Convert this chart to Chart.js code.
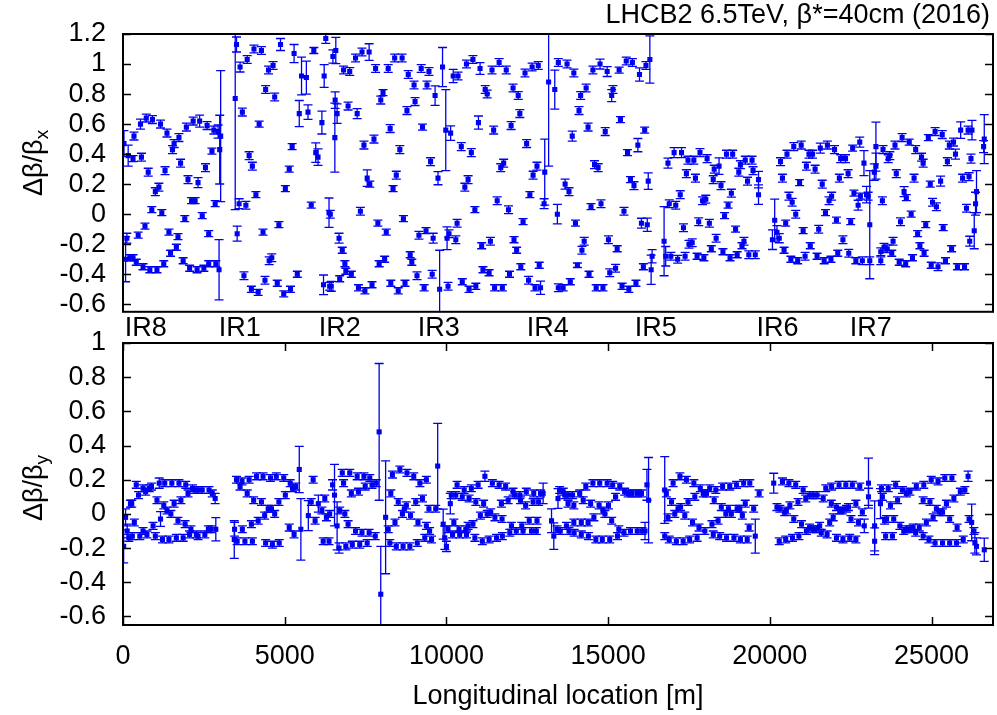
<!DOCTYPE html>
<html>
<head>
<meta charset="utf-8">
<title>LHCB2 beta-beating</title>
<script src="https://cdn.jsdelivr.net/npm/chart.js@4.4.1/dist/chart.umd.min.js"></script>
<style>
    body { margin: 0; background: #fff; width: 997px; height: 715px; overflow: hidden; position: relative; }
    .panel { position: absolute; left: 0; width: 997px; }
    #topBox { top: 0; height: 345px; }
    #botBox { top: 300px; height: 415px; }
</style>
</head>
<body>
<div class="panel" id="topBox"><canvas id="betaXChart"></canvas></div>
<div class="panel" id="botBox"><canvas id="betaYChart"></canvas></div>
<script>
// Each entry: [longitudinal location (m), delta beta / beta, error]
const betaX = [
    // IR8 arc
    [30,0.47,0.087],[160,0.39,0.07],[310,0.37,0.02],[340,0.52,0.026],[540,0.60,0.033],[570,0.38,0.026],
    [720,0.64,0.026],[780,0.28,0.026],[910,0.63,0.026],[1000,0.15,0.026],[1110,0.18,0.026],[1160,0.60,0.026],
    [890,0.03,0.02],[1200,0.01,0.02],[1300,0.29,0.026],[1360,0.54,0.026],[1530,0.43,0.026],[1580,0.47,0.026],
    [1730,0.51,0.026],[1780,0.34,0.026],[1960,0.58,0.026],[2010,0.23,0.026],[2170,0.62,0.026],[2320,0.21,0.033],
    [2370,0.62,0.04],[2550,0.31,0.026],[2600,0.59,0.026],[2810,0.56,0.026],[1910,-0.03,0.02],[2120,0.09,0.02],
    [2230,0.09,0.02],[2450,-0.01,0.02],[2750,0.42,0.02],[2850,0.07,0.02],[2940,0.55,0.044],[2990,0.43,0.229],
    [3020,0.52,0.436],[680,-0.08,0.02],[470,-0.14,0.02],[120,-0.16,0.033],[80,-0.30,0.15],[210,-0.29,0.02],
    [310,-0.29,0.02],[410,-0.32,0.02],[620,-0.35,0.02],[830,-0.37,0.02],[1050,-0.37,0.02],[1260,-0.33,0.02],
    [1470,-0.26,0.02],[1650,-0.22,0.02],[1420,-0.12,0.02],[1700,-0.15,0.02],[1860,-0.31,0.02],[2060,-0.36,0.02],
    [2290,-0.37,0.02],[2500,-0.36,0.02],[2650,-0.33,0.02],[2870,-0.33,0.02],[2650,-0.13,0.02],[2970,-0.37,0.2],
    // IR1 - IR2
    [3510,1.13,0.05],[3470,0.77,0.74],[3530,-0.13,0.05],[3590,0.07,0.033],[3800,0.06,0.026],[3620,0.98,0.033],
    [3690,0.68,0.026],[3740,-0.41,0.026],[3840,1.03,0.026],[3900,0.39,0.026],[4000,0.32,0.026],[3970,-0.50,0.02],
    [4180,-0.52,0.02],[4050,1.10,0.026],[4280,1.09,0.026],[4110,0.13,0.02],[4210,0.60,0.02],[4330,-0.12,0.02],
    [4390,-0.44,0.026],[4410,0.83,0.026],[4500,0.96,0.026],[4640,0.99,0.026],[4520,-0.31,0.026],[4600,-0.29,0.026],
    [4690,0.78,0.026],[4770,-0.46,0.02],[4820,-0.07,0.02],[4870,1.13,0.04],[4970,-0.53,0.02],[5180,-0.50,0.02],
    [5020,0.17,0.02],[5140,0.30,0.02],[5230,0.45,0.02],[5290,1.07,0.06],[5390,-0.40,0.02],[5450,0.67,0.087],
    [5520,0.92,0.126],[5670,0.91,0.11],[5720,0.68,0.048],[5820,0.06,0.02],[5900,1.09,0.02],[5960,0.41,0.065],
    [6030,0.38,0.055],[6150,0.61,0.076],[6200,-0.47,0.065],[6220,0.92,0.076],[6270,1.17,0.033],[6370,0.01,0.098],
    [6390,-0.48,0.026],
    [6490,1.05,0.044],[6580,1.09,0.087],[6560,0.76,0.055],[6620,0.67,0.065],[6550,0.51,0.23],[6410,0.00,0.026],
    [6680,-0.16,0.033],[6780,-0.24,0.02],[6860,-0.33,0.02],[6890,-0.38,0.02],[7060,-0.40,0.02],[6700,-0.43,0.02],
    [6440,-0.48,0.033],[6820,0.96,0.026],[7010,0.95,0.026],[6960,0.72,0.026],[7240,0.67,0.033],[7190,1.04,0.026],
    [7390,1.08,0.026],[7610,1.08,0.055],[7340,0.02,0.026],[7280,-0.49,0.02],[7480,-0.51,0.02],[7700,-0.47,0.02],
    [7450,0.46,0.026],[7760,0.50,0.026],[7550,0.24,0.055],[7630,0.20,0.02],[7810,0.97,0.026],[7880,-0.06,0.02],
    [8140,-0.12,0.02],[7920,-0.33,0.02],[8090,-0.30,0.02],[7970,0.76,0.026],[8040,0.81,0.02],[8200,0.97,0.026],
    [8260,0.57,0.026],[8280,-0.46,0.02],[8510,-0.51,0.02],[8720,-0.46,0.02],[8350,0.17,0.02],[8400,1.04,0.026],
    [8630,1.04,0.026],[8450,0.26,0.026],[8560,0.43,0.026],[8670,-0.03,0.02],[8780,0.69,0.026],[9030,0.75,0.026],
    [8820,0.93,0.026],[9000,0.86,0.026],[8880,-0.27,0.02],[8930,-0.32,0.02],[9090,-0.41,0.026],[9150,-0.14,0.026],
    [9370,-0.11,0.02],[9590,-0.16,0.033],[9220,0.97,0.026],[9460,0.95,0.026],[9260,0.58,0.02],[9310,-0.49,0.02],
    [9400,0.86,0.026],[9510,0.35,0.026],[9560,-0.40,0.026],[9650,0.79,0.065],[9740,0.24,0.044],[9790,-0.50,0.26],
    // IR3 - IR4
    [9880,0.98,0.13],[9980,0.56,0.27],[10020,-0.16,0.076],[10050,-0.48,0.026],[10130,0.54,0.048],[10080,-0.13,0.026],
    [10290,-0.17,0.026],[10330,-0.06,0.026],[10210,0.92,0.044],[10360,0.92,0.026],[10460,0.45,0.026],[10490,-0.45,0.02],
    [10700,-0.50,0.02],[10910,-0.48,0.02],[10570,0.18,0.026],[10670,0.23,0.026],[10620,1.00,0.026],[10820,1.03,0.026],
    [10770,0.41,0.026],[10880,0.03,0.02],[10990,0.61,0.044],[11040,0.97,0.039],[11090,-0.21,0.02],[11360,-0.18,0.026],
    [11130,-0.37,0.02],[11320,-0.39,0.02],[11200,0.83,0.026],[11260,0.80,0.026],[11410,0.96,0.026],[11630,1.01,0.026],
    [11850,0.96,0.026],[11460,0.56,0.026],[11490,-0.49,0.02],[11730,-0.49,0.02],[11570,0.09,0.026],[11680,0.31,0.026],
    [11770,0.34,0.026],[11920,0.03,0.026],[11950,-0.40,0.02],[12000,0.59,0.026],[12060,0.84,0.026],[12220,0.79,0.026],
    [12270,0.67,0.026],[12090,-0.17,0.02],[12170,-0.24,0.02],[12300,-0.35,0.02],[12370,-0.05,0.02],[12430,0.94,0.026],
    [12480,0.47,0.026],[12540,-0.44,0.026],[12580,0.13,0.02],[12650,0.98,0.026],[12840,0.99,0.026],[12680,0.26,0.026],
    [12800,0.32,0.026],[12740,-0.49,0.02],[12910,-0.49,0.044],[12870,-0.34,0.02],[13020,0.07,0.033],[13040,0.28,0.22],
    [13160,0.88,0.56],[13350,0.83,0.13],[13430,0.00,0.065],[13460,1.01,0.026],[13460,-0.49,0.026],
    [13610,-0.49,0.02],[13730,1.00,0.026],[13670,0.20,0.033],[13790,0.15,0.026],[13830,-0.45,0.02],[13890,0.52,0.033],
    [13940,0.94,0.026],[13990,-0.06,0.02],[14050,-0.34,0.015],[14100,0.69,0.026],[14150,0.79,0.026],[14320,0.84,0.026],
    [14190,-0.24,0.026],[14260,-0.18,0.026],[14380,0.58,0.026],[14410,-0.40,0.02],[14470,0.05,0.02],[14530,0.96,0.026],
    [14750,1.00,0.033],[14970,0.95,0.033],[14580,0.33,0.026],[14690,0.31,0.026],[14630,-0.49,0.02],[14840,-0.49,0.02],
    [14780,0.07,0.026],[14910,0.55,0.026],[15010,-0.17,0.026],[15280,-0.23,0.02],[15050,-0.39,0.026],[15230,-0.36,0.026],
    [15110,0.79,0.04],[15150,0.83,0.026],[15340,0.96,0.02],[15380,0.63,0.02],[15490,0.02,0.026],[15430,-0.48,0.02],
    [15640,-0.50,0.02],[15860,-0.46,0.02],[15560,1.02,0.026],[15750,1.01,0.026],[15970,0.93,0.044],[15600,0.41,0.02],
    [15690,0.23,0.02],[15800,0.19,0.026],[15920,0.46,0.044],[16030,-0.06,0.033],[16210,-0.07,0.044],[16090,-0.35,0.02],
    [16130,0.56,0.02],[16170,0.99,0.026],[16290,1.03,0.157],[16240,0.22,0.055],[16330,-0.37,0.098],[16360,-0.28,0.044],
    // IR5 - IR6
    [16730,-0.18,0.23],[16780,-0.28,0.065],[16850,0.34,0.033],[16890,0.07,0.026],[17090,0.06,0.026],[16940,-0.28,0.026],
    [17150,-0.30,0.026],[17380,-0.28,0.026],[17040,0.41,0.033],[17270,0.41,0.033],[17230,0.13,0.026],[17330,-0.09,0.026],
    [17420,0.27,0.026],[17700,0.24,0.026],[17470,0.36,0.026],[17650,0.36,0.026],[17500,-0.20,0.026],[17600,-0.19,0.026],
    [17750,-0.28,0.02],[17960,-0.29,0.02],[17800,-0.05,0.026],[18130,-0.06,0.026],[17840,0.41,0.026],[18060,0.37,0.026],
    [17920,0.09,0.026],[18020,0.10,0.026],[18190,-0.23,0.02],[18250,0.23,0.026],[18280,0.30,0.026],[18430,0.32,0.055],
    [18340,-0.16,0.026],[18490,0.19,0.026],[18550,-0.25,0.02],[18600,-0.01,0.02],[18660,0.40,0.026],[18850,0.40,0.026],
    [18710,0.06,0.02],[18770,-0.29,0.02],[18810,0.14,0.026],[18940,-0.10,0.02],[18990,-0.27,0.02],[19040,0.28,0.026],
    [19090,0.33,0.026],[19140,-0.21,0.02],[19200,-0.18,0.026],[19240,0.36,0.026],[19450,0.36,0.026],[19310,0.22,0.026],
    [19350,-0.27,0.026],[19550,-0.27,0.026],[19480,0.29,0.026],[19650,0.23,0.055],[19650,0.13,0.065],
    [20080,-0.17,0.065],[20150,-0.04,0.14],[20220,-0.12,0.044],[20290,-0.16,0.03],[20330,0.35,0.026],[20390,0.24,0.026],
    [20440,-0.24,0.02],[20490,-0.06,0.02],[20530,0.40,0.026],[20740,0.45,0.026],[20970,0.46,0.026],[20590,0.12,0.026],
    [20690,0.08,0.026],[20650,-0.30,0.02],[20860,-0.31,0.02],[20800,0.00,0.026],[20920,0.21,0.02],[21030,-0.11,0.02],
    [21090,-0.28,0.026],[21130,0.32,0.026],[21210,0.40,0.026],[21320,0.40,0.026],[21250,-0.21,0.02],[21400,0.30,0.026],
    [21460,-0.28,0.02],[21510,-0.10,0.026],[21560,0.44,0.033],[21780,0.46,0.026],[22000,0.43,0.026],[21620,0.20,0.026],
    [21680,-0.31,0.02],[21890,-0.30,0.02],[21720,0.01,0.02],[21830,0.09,0.026],[21910,0.12,0.026],[22060,-0.04,0.02],
    [22100,-0.26,0.02],[22150,0.24,0.026],[22190,0.37,0.026],[22340,0.37,0.026],[22260,-0.17,0.026],[22420,0.27,0.026],
    [22440,-0.26,0.026],[22500,-0.05,0.02],[22560,0.44,0.02],[22600,0.14,0.02],[22660,-0.31,0.02],[22860,-0.31,0.026],
    // IR7 - IR8
    [22730,0.06,0.033],[22780,0.48,0.033],[22800,0.12,0.02],[22910,0.34,0.083],[22990,0.13,0.055],[23040,0.12,0.026],
    [23090,-0.07,0.36],[23090,-0.31,0.026],[23230,0.28,0.055],[23280,0.32,0.087],[23280,0.45,0.163],[23430,-0.31,0.026],
    [23430,-0.25,0.026],[23480,0.09,0.026],[23500,0.43,0.026],[23530,-0.22,0.026],[23630,-0.23,0.026],[23660,0.37,0.026],
    [23710,0.39,0.026],[23770,-0.26,0.02],[23810,-0.18,0.026],[23870,0.46,0.026],[23910,0.27,0.026],[24000,-0.32,0.02],
    [24200,-0.33,0.02],[24040,-0.05,0.026],[24090,0.51,0.026],[24150,0.15,0.033],[24220,0.11,0.02],[24310,0.48,0.02],
    [24370,0.00,0.02],[24410,-0.29,0.02],[24460,0.24,0.026],[24510,0.43,0.026],[24570,-0.13,0.02],[24640,-0.21,0.02],
    [24690,0.38,0.026],[24740,0.34,0.026],[24770,-0.26,0.02],[24820,-0.07,0.02],[24900,0.51,0.02],[24960,0.20,0.02],
    [25030,0.08,0.026],[25150,0.05,0.026],[24990,-0.34,0.02],[25200,-0.35,0.026],[25110,0.55,0.026],[25330,0.53,0.026],
    [25280,0.22,0.033],[25360,-0.09,0.02],[25430,-0.31,0.02],[25490,0.35,0.026],[25550,0.46,0.026],[25680,0.48,0.026],
    [25620,-0.23,0.02],[25740,0.40,0.033],[25800,-0.35,0.02],[26020,-0.35,0.02],[25900,0.56,0.055],[26130,0.56,0.026],
    [26250,0.56,0.065],[25960,0.24,0.026],[26080,0.04,0.026],[26160,0.25,0.026],[26180,-0.18,0.033],[26220,0.37,0.03],
    [26320,-0.11,0.12],[26360,0.07,0.076],[26390,0.15,0.14],[26630,0.50,0.163],[26610,0.45,0.04]
];

const betaY = [
    // IR8 arc
    [20,-0.19,0.097],[80,-0.02,0.05],[130,-0.10,0.04],[180,-0.14,0.02],[290,-0.13,0.02],[230,0.06,0.02],
    [270,0.06,0.02],[350,-0.05,0.02],[410,0.17,0.02],[480,0.11,0.02],[520,-0.13,0.02],[620,-0.10,0.02],
    [620,0.15,0.02],[700,0.13,0.02],[740,-0.12,0.02],[810,0.15,0.02],[880,0.16,0.02],[930,-0.07,0.02],
    [1000,-0.13,0.02],[1050,0.08,0.02],[1120,0.18,0.03],[1160,-0.03,0.043],[1220,-0.15,0.02],[1420,-0.15,0.02],
    [1650,-0.14,0.02],[1860,-0.14,0.02],[1260,0.05,0.02],[1360,0.02,0.02],[1480,0.00,0.02],[1290,0.18,0.02],
    [1510,0.18,0.02],[1730,0.18,0.02],[1940,0.17,0.02],[1580,0.06,0.02],[1790,0.08,0.02],[1700,-0.04,0.02],
    [1920,-0.06,0.02],[2010,0.12,0.02],[2100,-0.09,0.02],[2150,0.15,0.02],[2060,-0.12,0.02],[2320,-0.13,0.02],
    [2530,-0.12,0.02],[2220,0.14,0.02],[2320,0.14,0.02],[2450,0.14,0.02],[2660,0.14,0.02],[2270,-0.12,0.02],
    [2640,-0.09,0.02],[2720,-0.09,0.02],[2760,0.12,0.02],[2850,0.09,0.03],[2870,-0.09,0.068],
    // IR1 - IR2
    [3450,-0.09,0.04],[3440,-0.15,0.11],[3510,0.20,0.02],[3680,0.19,0.02],[3900,0.20,0.02],[3620,0.16,0.02],
    [3530,-0.16,0.02],[3770,-0.16,0.02],[4000,-0.16,0.02],[3690,-0.09,0.02],[3840,0.12,0.02],[3970,-0.06,0.02],
    [4040,0.08,0.02],[4130,0.22,0.02],[4330,0.22,0.02],[4560,0.21,0.02],[4740,0.22,0.02],[4180,-0.04,0.02],
    [4280,0.07,0.02],[4380,-0.01,0.02],[4410,-0.17,0.02],[4620,-0.18,0.02],[4830,-0.17,0.02],[4490,0.03,0.02],
    [4590,0.03,0.02],[4690,0.00,0.02],[4820,0.07,0.02],[4970,0.21,0.02],[5020,0.11,0.02],[5140,-0.08,0.02],
    [5170,0.18,0.02],[5240,0.15,0.02],[5290,-0.12,0.02],[5340,0.16,0.02],[5450,0.26,0.135],[5500,-0.09,0.18],
    [5730,-0.01,0.088],[5820,0.07,0.02],[5880,0.20,0.02],[5940,-0.04,0.02],[6040,0.06,0.05],[6150,0.02,0.02],
    [6240,0.09,0.02],[6290,-0.02,0.02],[6190,-0.16,0.02],[6370,-0.16,0.02],[6390,0.00,0.02],
    [6540,0.11,0.18],[6620,-0.07,0.14],[6480,0.17,0.03],[6700,0.02,0.02],[6860,0.00,0.02],[6680,-0.20,0.03],
    [6890,-0.19,0.02],[7090,-0.18,0.02],[7320,-0.18,0.02],[7550,-0.17,0.02],[6780,0.24,0.02],[7010,0.24,0.02],
    [6820,0.18,0.02],[6960,-0.06,0.02],[7060,0.12,0.02],[7280,0.13,0.02],[7190,-0.10,0.02],[7390,-0.11,0.02],
    [7610,-0.11,0.02],[7240,0.22,0.02],[7450,0.22,0.02],[7490,0.16,0.02],[7700,0.17,0.02],[7830,0.18,0.02],
    [7630,0.21,0.02],[7800,-0.13,0.02],[7920,0.48,0.40],[7970,-0.47,0.28],[8120,-0.02,0.33],[8200,-0.09,0.02],
    [8250,-0.17,0.02],[8280,0.12,0.02],[8330,0.23,0.02],[8560,0.26,0.02],[8780,0.24,0.02],[8990,0.22,0.02],
    [8410,-0.05,0.02],[8450,-0.19,0.02],[8660,-0.19,0.02],[8870,-0.19,0.02],[8510,0.07,0.02],[8640,0.00,0.02],
    [8700,0.03,0.02],[8760,0.05,0.02],[8890,-0.01,0.02],[9050,0.07,0.02],[9120,-0.05,0.02],[9260,0.09,0.02],
    [9180,0.18,0.02],[9380,0.20,0.02],[9100,-0.17,0.02],[9330,-0.14,0.02],[9540,-0.15,0.02],[9380,-0.07,0.02],
    [9480,-0.10,0.02],[9460,0.03,0.02],[9670,0.03,0.02],[9730,0.28,0.25],
    // IR3 - IR4
    [9900,-0.06,0.088],[9950,-0.14,0.068],[10000,-0.19,0.03],[10050,-0.09,0.02],[10120,0.06,0.06],[10150,0.11,0.02],
    [10290,0.11,0.02],[10190,-0.12,0.02],[10410,-0.12,0.02],[10620,-0.12,0.02],[10230,-0.05,0.02],[10390,-0.09,0.02],
    [10600,-0.09,0.02],[10330,0.17,0.02],[10490,0.10,0.02],[10700,0.09,0.02],[10550,0.14,0.02],[10770,0.15,0.02],
    [10670,-0.07,0.02],[10820,-0.06,0.02],[10880,-0.14,0.02],[11110,-0.16,0.02],[11320,-0.15,0.02],[11550,-0.14,0.02],
    [11730,-0.13,0.02],[10910,0.07,0.02],[10980,0.17,0.02],[11050,-0.01,0.02],[11190,0.22,0.03],[11150,0.06,0.02],
    [11260,0.00,0.02],[11370,0.01,0.02],[11420,0.18,0.02],[11630,0.17,0.02],[11830,0.16,0.02],[11500,-0.02,0.02],
    [11720,-0.03,0.02],[11700,0.06,0.02],[11910,0.08,0.02],[11960,-0.11,0.02],[12010,-0.07,0.02],[12160,-0.10,0.02],
    [12060,0.13,0.02],[12110,0.11,0.02],[12270,0.11,0.02],[12290,0.08,0.02],[12370,-0.10,0.02],[12470,0.13,0.02],
    [12330,-0.07,0.02],[12560,-0.04,0.02],[12450,0.05,0.02],[12630,-0.10,0.02],[12680,0.07,0.02],[12700,0.12,0.02],
    [12780,-0.10,0.02],[12800,-0.04,0.02],[12850,0.07,0.02],[12910,0.12,0.02],[12990,0.12,0.06],
    [13250,-0.04,0.07],[13320,-0.13,0.078],[13420,-0.09,0.02],[13520,-0.10,0.02],[13450,0.09,0.058],[13500,0.14,0.02],
    [13610,0.13,0.02],[13660,0.11,0.02],[13760,0.11,0.02],[13900,0.11,0.02],[13710,-0.07,0.02],[13790,-0.10,0.02],
    [13760,0.06,0.02],[13940,0.05,0.02],[13950,-0.11,0.02],[14170,-0.12,0.02],[14390,-0.13,0.02],[13940,-0.05,0.02],
    [14170,-0.05,0.02],[14380,-0.05,0.02],[14120,0.12,0.02],[14310,0.16,0.02],[14230,0.08,0.02],[14460,0.06,0.02],
    [14530,0.18,0.02],[14740,0.18,0.02],[14970,0.18,0.02],[15140,0.17,0.02],[14560,-0.02,0.02],[14620,-0.15,0.02],
    [14820,-0.15,0.02],[15050,-0.15,0.02],[14720,0.05,0.02],[14840,0.02,0.02],[14900,0.00,0.02],[15010,0.05,0.02],
    [15110,-0.04,0.02],[15230,0.10,0.02],[15290,-0.13,0.02],[15330,-0.09,0.02],[15360,0.16,0.02],[15510,0.13,0.02],
    [15620,0.12,0.02],[15740,0.12,0.02],[15900,0.12,0.02],[16030,0.12,0.02],[15490,-0.11,0.02],[15690,-0.10,0.02],
    [15900,-0.10,0.02],[16050,-0.10,0.02],[16140,-0.10,0.05],[16200,0.17,0.09],[16250,0.08,0.25],
    // IR5 - IR6
    [16750,0.14,0.195],[16800,0.12,0.02],[16750,-0.13,0.02],[16890,-0.15,0.02],[17110,-0.16,0.02],[17320,-0.16,0.02],
    [17520,-0.15,0.02],[17750,-0.14,0.02],[16850,-0.02,0.02],[17060,0.00,0.02],[16960,0.07,0.02],[17160,0.03,0.02],
    [17240,0.04,0.02],[17010,0.18,0.02],[17220,0.22,0.02],[17420,0.20,0.02],[17650,0.18,0.02],[17370,-0.01,0.02],
    [17470,0.07,0.02],[17610,-0.05,0.02],[17680,0.10,0.02],[17810,-0.08,0.02],[17990,-0.10,0.02],[17850,0.15,0.02],
    [17940,0.12,0.02],[18040,0.12,0.02],[18140,0.15,0.02],[18330,0.14,0.02],[18540,0.16,0.02],[18760,0.16,0.02],
    [18970,0.17,0.02],[19190,0.18,0.02],[19380,0.18,0.02],[18210,-0.06,0.02],[18400,-0.04,0.02],[18250,-0.12,0.02],
    [18450,-0.13,0.02],[18660,-0.14,0.02],[18890,-0.14,0.02],[19090,-0.15,0.02],[19300,-0.15,0.02],[18280,0.08,0.02],
    [18500,0.04,0.02],[18640,0.00,0.02],[18720,0.03,0.02],[18810,0.00,0.02],[18990,0.03,0.02],[19070,0.03,0.02],
    [19150,-0.01,0.02],[19240,0.06,0.02],[19360,-0.08,0.02],[19500,0.03,0.02],[19550,-0.13,0.10],[19670,0.12,0.02],
    [20120,0.18,0.058],[20390,0.19,0.02],[20590,0.18,0.02],[20800,0.17,0.02],[20220,0.04,0.02],[20310,0.03,0.02],
    [20460,0.01,0.02],[20510,0.02,0.02],[20290,-0.16,0.02],[20490,-0.15,0.02],[20700,-0.14,0.02],[20900,-0.13,0.02],
    [20620,0.05,0.02],[20740,-0.03,0.02],[20870,0.07,0.02],[20980,-0.06,0.02],[21030,0.14,0.02],[21110,0.09,0.02],
    [21230,0.11,0.02],[21340,0.11,0.02],[21460,0.11,0.02],[21650,0.09,0.02],[21730,0.15,0.02],[21910,0.16,0.02],
    [22140,0.17,0.02],[22350,0.17,0.02],[22550,0.17,0.02],[22780,0.16,0.02],[21130,-0.10,0.02],[21230,-0.08,0.02],
    [21340,-0.09,0.02],[21440,-0.09,0.02],[21590,-0.11,0.02],[21770,-0.12,0.02],[21850,-0.05,0.02],[21960,-0.02,0.02],
    [22060,-0.14,0.02],[22260,-0.15,0.02],[22470,-0.14,0.02],[22660,-0.15,0.02],[21540,-0.07,0.02],[21900,0.06,0.02],
    [22060,0.04,0.02],[22160,0.02,0.02],[22240,0.02,0.02],[22370,0.03,0.02],[22430,0.04,0.02],[22510,-0.03,0.02],
    [22660,0.06,0.02],[22740,-0.05,0.02],[22860,0.01,0.02],[22920,-0.07,0.04],
    // IR7 - IR8
    [23050,0.18,0.146],[23050,0.10,0.05],[23240,-0.07,0.146],[23240,-0.16,0.078],[23420,0.06,0.088],[23450,0.15,0.02],
    [23480,0.10,0.02],[23550,-0.04,0.02],[23580,-0.13,0.02],[23610,-0.03,0.02],[23790,-0.13,0.02],[23830,-0.03,0.02],
    [23660,0.15,0.02],[23890,0.17,0.02],[23730,0.05,0.02],[23950,0.08,0.02],[24020,-0.07,0.02],[24140,-0.10,0.02],
    [24220,-0.09,0.02],[24330,-0.09,0.02],[24430,-0.08,0.02],[24510,-0.11,0.02],[24620,-0.08,0.02],[24740,-0.13,0.02],
    [24840,-0.05,0.02],[24920,-0.15,0.02],[25050,-0.02,0.02],[25150,0.03,0.02],[25250,0.01,0.02],[25340,0.01,0.02],
    [25560,-0.03,0.02],[25790,-0.08,0.02],[24100,0.14,0.02],[24220,0.12,0.02],[24330,0.13,0.02],[24530,0.16,0.02],
    [24760,0.17,0.02],[24990,0.20,0.02],[25200,0.19,0.02],[25410,0.21,0.02],[25630,0.21,0.02],[24740,0.08,0.02],
    [24950,0.07,0.02],[25110,-0.17,0.02],[25340,-0.17,0.02],[25560,-0.17,0.02],[25770,-0.17,0.02],[25980,-0.15,0.02],
    [25460,0.06,0.02],[25690,0.09,0.02],[25890,0.13,0.02],[26030,0.14,0.02],[26130,0.22,0.03],[26160,-0.03,0.02],
    [26240,-0.05,0.107],[26310,-0.10,0.02],[26340,-0.17,0.06],[26390,-0.19,0.05],[26630,-0.21,0.068]
];

// Interaction regions marked under the upper panel
const irNames = ['IR8', 'IR1', 'IR2', 'IR3', 'IR4', 'IR5', 'IR6', 'IR7'];
const irLocations = [700, 3610, 6700, 9760, 13130, 16470, 20240, 23120];

// Axis ranges and tick values
const sMin = 0;
const sMax = 26900;
const sTicks = [0, 5000, 10000, 15000, 20000, 25000];
const yTicksX = [-0.6, -0.4, -0.2, 0, 0.2, 0.4, 0.6, 0.8, 1, 1.2];
const yTicksY = [-0.6, -0.4, -0.2, 0, 0.2, 0.4, 0.6, 0.8, 1];

const BLUE = '#0000f0';
const FONT = '"Liberation Sans", Arial, Helvetica, sans-serif';
const FS = 27;

// Error bars drawn under the markers, clipped to the frame
const errorBars = {
    id: 'errorBars',
    beforeDatasetsDraw(chart) {
        const { ctx, chartArea: a, scales: { x, y } } = chart;
        ctx.save();
        ctx.beginPath();
        ctx.rect(a.left, a.top, a.right - a.left, a.bottom - a.top);
        ctx.clip();
        ctx.strokeStyle = BLUE;
        ctx.lineWidth = 1.3;
        chart.data.datasets[0].data.forEach(p => {
            const px = x.getPixelForValue(p.x);
            const hi = y.getPixelForValue(p.y + p.e);
            const lo = y.getPixelForValue(p.y - p.e);
            ctx.beginPath();
            ctx.moveTo(px, hi); ctx.lineTo(px, lo);
            ctx.moveTo(px - 4.5, hi); ctx.lineTo(px + 4.5, hi);
            ctx.moveTo(px - 4.5, lo); ctx.lineTo(px + 4.5, lo);
            ctx.stroke();
        });
        ctx.restore();
    }
};

// gnuplot style frame with inward ticks
const frame = {
    id: 'frame',
    afterDraw(chart, args, opts) {
        const { ctx, chartArea: a, scales: { x, y } } = chart;
        ctx.save();
        ctx.strokeStyle = '#000';
        ctx.lineWidth = 1.5;
        ctx.beginPath();
        y.ticks.forEach(t => {
            const py = Math.round(y.getPixelForValue(t.value)) + 0.5;
            ctx.moveTo(a.left, py); ctx.lineTo(a.left + 8, py);
            ctx.moveTo(a.right, py); ctx.lineTo(a.right - 8, py);
        });
        if (opts.xTicks) {
            sTicks.forEach(v => {
                const px = Math.round(x.getPixelForValue(v)) + 0.5;
                ctx.moveTo(px, a.top); ctx.lineTo(px, a.top + 8);
                ctx.moveTo(px, a.bottom); ctx.lineTo(px, a.bottom - 8);
            });
        }
        ctx.stroke();
        ctx.lineWidth = 2;
        ctx.strokeRect(a.left, a.top, a.right - a.left, a.bottom - a.top);
        ctx.restore();
    }
};

// Rotated y title with a subscript, plus optional title and IR labels
const labels = {
    id: 'labels',
    afterDraw(chart, args, opts) {
        const { ctx, chartArea: a, scales: { x } } = chart;
        ctx.save();
        ctx.fillStyle = '#000';
        const main = 'Δβ/β';
        const mainFont = `${FS}px ${FONT}`;
        const subFont = `${Math.round(FS * 0.7)}px ${FONT}`;
        ctx.font = mainFont;
        const w1 = ctx.measureText(main).width;
        ctx.font = subFont;
        const w2 = ctx.measureText(opts.sub).width;
        ctx.translate(33, (a.top + a.bottom) / 2 + opts.shift);
        ctx.rotate(-Math.PI / 2);
        ctx.textBaseline = 'alphabetic';
        ctx.textAlign = 'left';
        const start = -(w1 + w2) / 2;
        ctx.font = mainFont;
        ctx.fillText(main, start, 9);
        ctx.font = subFont;
        ctx.fillText(opts.sub, start + w1, 15);
        ctx.restore();

        if (opts.title) {
            ctx.save();
            ctx.font = `${FS}px ${FONT}`;
            ctx.fillStyle = '#000';
            ctx.textAlign = 'right';
            ctx.textBaseline = 'middle';
            ctx.fillText(opts.title, 990, 16);
            ctx.restore();
        }
        if (opts.ir) {
            ctx.save();
            ctx.font = `${FS}px ${FONT}`;
            ctx.fillStyle = '#000';
            ctx.textAlign = 'center';
            ctx.textBaseline = 'middle';
            irNames.forEach((name, i) => {
                ctx.fillText(name, x.getPixelForValue(irLocations[i]), a.bottom + 17);
            });
            ctx.restore();
        }
    }
};

const toPoints = rows => rows.map(r => ({ x: r[0], y: r[1], e: r[2] }));
const fmt = v => String(Math.round(v * 10) / 10);
const setTicks = values => scale => { scale.ticks = values.map(v => ({ value: v })); };

function makeChart(id, rows, yMin, yMax, yTicks, isTop) {
    const ctx = document.getElementById(id).getContext('2d');
    return new Chart(ctx, {
        type: 'scatter',
        data: {
            datasets: [{
                data: toPoints(rows),
                pointStyle: 'rect',
                pointRadius: 3.6,
                pointBorderWidth: 0,
                backgroundColor: BLUE,
                borderColor: BLUE
            }]
        },
        options: {
            responsive: true,
            maintainAspectRatio: false,
            animation: false,
            events: [],
            layout: {
                padding: isTop
                    ? { top: 34, right: 4, bottom: 29, left: 0 }
                    : { top: 43, right: 4, bottom: 0, left: 0 }
            },
            scales: {
                x: {
                    type: 'linear',
                    min: sMin,
                    max: sMax,
                    display: !isTop,
                    afterBuildTicks: setTicks(sTicks),
                    afterFit: s => { if (!isTop) s.height = 90; },
                    grid: { display: false, drawTicks: false },
                    border: { display: false },
                    ticks: {
                        autoSkip: false,
                        maxRotation: 0,
                        padding: 15,
                        color: '#000',
                        font: { family: FONT, size: FS },
                        callback: v => String(v)
                    },
                    title: {
                        display: true,
                        text: 'Longitudinal location [m]',
                        color: '#000',
                        font: { family: FONT, size: FS },
                        padding: { top: 0, bottom: 2 }
                    }
                },
                y: {
                    type: 'linear',
                    min: yMin,
                    max: yMax,
                    afterBuildTicks: setTicks(yTicks),
                    afterFit: s => { s.width = 123; },
                    grid: { display: false, drawTicks: false },
                    border: { display: false },
                    ticks: {
                        autoSkip: false,
                        padding: 17,
                        color: '#000',
                        font: { family: FONT, size: FS },
                        callback: fmt
                    }
                }
            },
            plugins: {
                legend: { display: false },
                tooltip: { enabled: false },
                frame: { xTicks: !isTop },
                labels: isTop
                    ? { sub: 'x', shift: -10, title: 'LHCB2 6.5TeV, β*=40cm (2016)', ir: true }
                    : { sub: 'y', shift: 4, title: null, ir: false }
            }
        },
        plugins: [errorBars, frame, labels]
    });
}

makeChart('betaXChart', betaX, -0.65, 1.2, yTicksX, true);
makeChart('betaYChart', betaY, -0.65, 1.0, yTicksY, false);
</script>
</body>
</html>
